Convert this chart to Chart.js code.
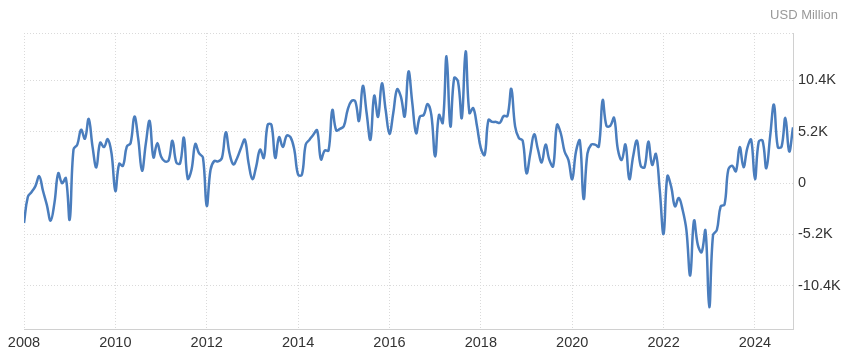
<!DOCTYPE html>
<html>
<head>
<meta charset="utf-8">
<script src="https://cdn.jsdelivr.net/npm/chart.js@4"></script>
<style>
  html, body { margin: 0; padding: 0; background: #fff; }
  #wrap { position: relative; width: 844px; height: 351px; }
  #unit { position: absolute; right: 6px; top: 7px; font: 13px "Liberation Sans", Arial, sans-serif; color: #999; }
</style>
</head>
<body>
<div id="wrap">
  <canvas id="chart" width="844" height="351"></canvas>
  <div id="unit">USD Million</div>
</div>
<script>
// monthly values, USD million, Jan 2008 .. Nov 2024
const values = [
  -4050, -1400, -900, -300, 700, -800, -2200, -3800, -2000, 1000, 0, 500,
  -3700, 3400, 3900, 5400, 4500, 6500, 3700, 1600, 4100, 3650, 4450, 3000,
  -800, 1950, 1750, 3700, 4050, 6750, 4500, 1250, 4000, 6300, 2600, 4050,
  2700, 2200, 2300, 4300, 2100, 2000, 4600, 450, 1350, 3950, 3000, 2600,
  -2300, 1350, 2250, 2200, 2550, 5150, 3000, 1900, 2550, 3550, 4400, 2000,
  400, 1700, 3400, 2550, 5900, 5900, 2550, 4650, 3650, 4800, 4650, 3400,
  850, 850, 3900, 4400, 4900, 5350, 2400, 3300, 3300, 7400, 5350, 5500,
  5750, 7400, 8300, 8300, 6300, 9850, 7100, 4400, 8850, 6700, 10100, 7400,
  5000, 7100, 9500, 8750, 6750, 11300, 8100, 5050, 6750, 6900, 8000, 6900,
  2700, 6900, 6100, 12850, 5750, 10650, 10300, 6600, 13350, 7100, 7600, 5750,
  3550, 2850, 6400, 6200, 6200, 6100, 6800, 6800, 9550, 5750, 4550, 4300,
  1000, 3000, 4950, 3400, 2100, 3900, 2350, 1700, 5900, 5050, 3200, 2350,
  400, 3200, 4300, -1600, 3000, 3900, 3900, 3700, 8400, 5800, 5800, 6600,
  3400, 2350, 3900, 400, 2700, 4300, 1750, 1600, 4200, 1850, 2950, -700,
  -5150, 700, -350, -2350, -1500, -2700, -4750, -9350, -3800, -6250, -7000, -4800,
  -12550, -5250, -4750, -2350, -2200, 1350, 1750, 1200, 3650, 1600, 3550, 4400,
  400, 4200, 4300, 1500, 4750, 7950, 3650, 3700, 6600, 3200, 5650
];
const startYear = 2008;
const yearTicks = [2008, 2010, 2012, 2014, 2016, 2018, 2020, 2022, 2024];
const yTicks = [-10400, -5200, 0, 5200, 10400];
const yTopLine = 15200;
const yMin = -14770;

const points = values.map((v, i) => ({ x: i, y: v }));

function fmtK(v) {
  if (v === 0) return '0';
  return (v / 1000).toFixed(1) + 'K';
}

const tickFont = { family: '"Liberation Sans", Arial, sans-serif', size: 14.5 };

new Chart(document.getElementById('chart'), {
  type: 'line',
  data: {
    datasets: [{
      data: points,
      borderColor: '#4a7dbd',
      borderWidth: 2.5,
      pointRadius: 0,
      tension: 0.4,
      fill: false
    }]
  },
  options: {
    responsive: false,
    animation: false,
    layout: { padding: { left: 24, top: 33, right: 0, bottom: 0 } },
    plugins: { legend: { display: false }, tooltip: { enabled: false } },
    scales: {
      x: {
        type: 'linear',
        min: 0,
        max: values.length - 1,
        afterBuildTicks: s => { s.ticks = yearTicks.map(y => ({ value: (y - startYear) * 12 })); },
        afterFit: s => { s.height = 22; },
        ticks: {
          callback: v => String(startYear + v / 12),
          color: '#333',
          font: tickFont,
          padding: 5,
          maxRotation: 0
        },
        grid: { color: '#dadada', drawTicks: false },
        border: { color: '#d0d0d0', dash: [1, 2] }
      },
      y: {
        position: 'right',
        min: yMin,
        max: yTopLine,
        afterBuildTicks: s => { s.ticks = yTicks.concat([yTopLine]).map(v => ({ value: v })); },
        afterFit: s => { s.width = 51; },
        ticks: {
          callback: v => (v === yTopLine ? '' : fmtK(v)),
          color: '#333',
          font: tickFont,
          padding: 5
        },
        grid: { color: '#dadada', drawTicks: false },
        border: { color: '#d0d0d0', dash: [1, 2] }
      }
    }
  }
});
</script>
</body>
</html>
